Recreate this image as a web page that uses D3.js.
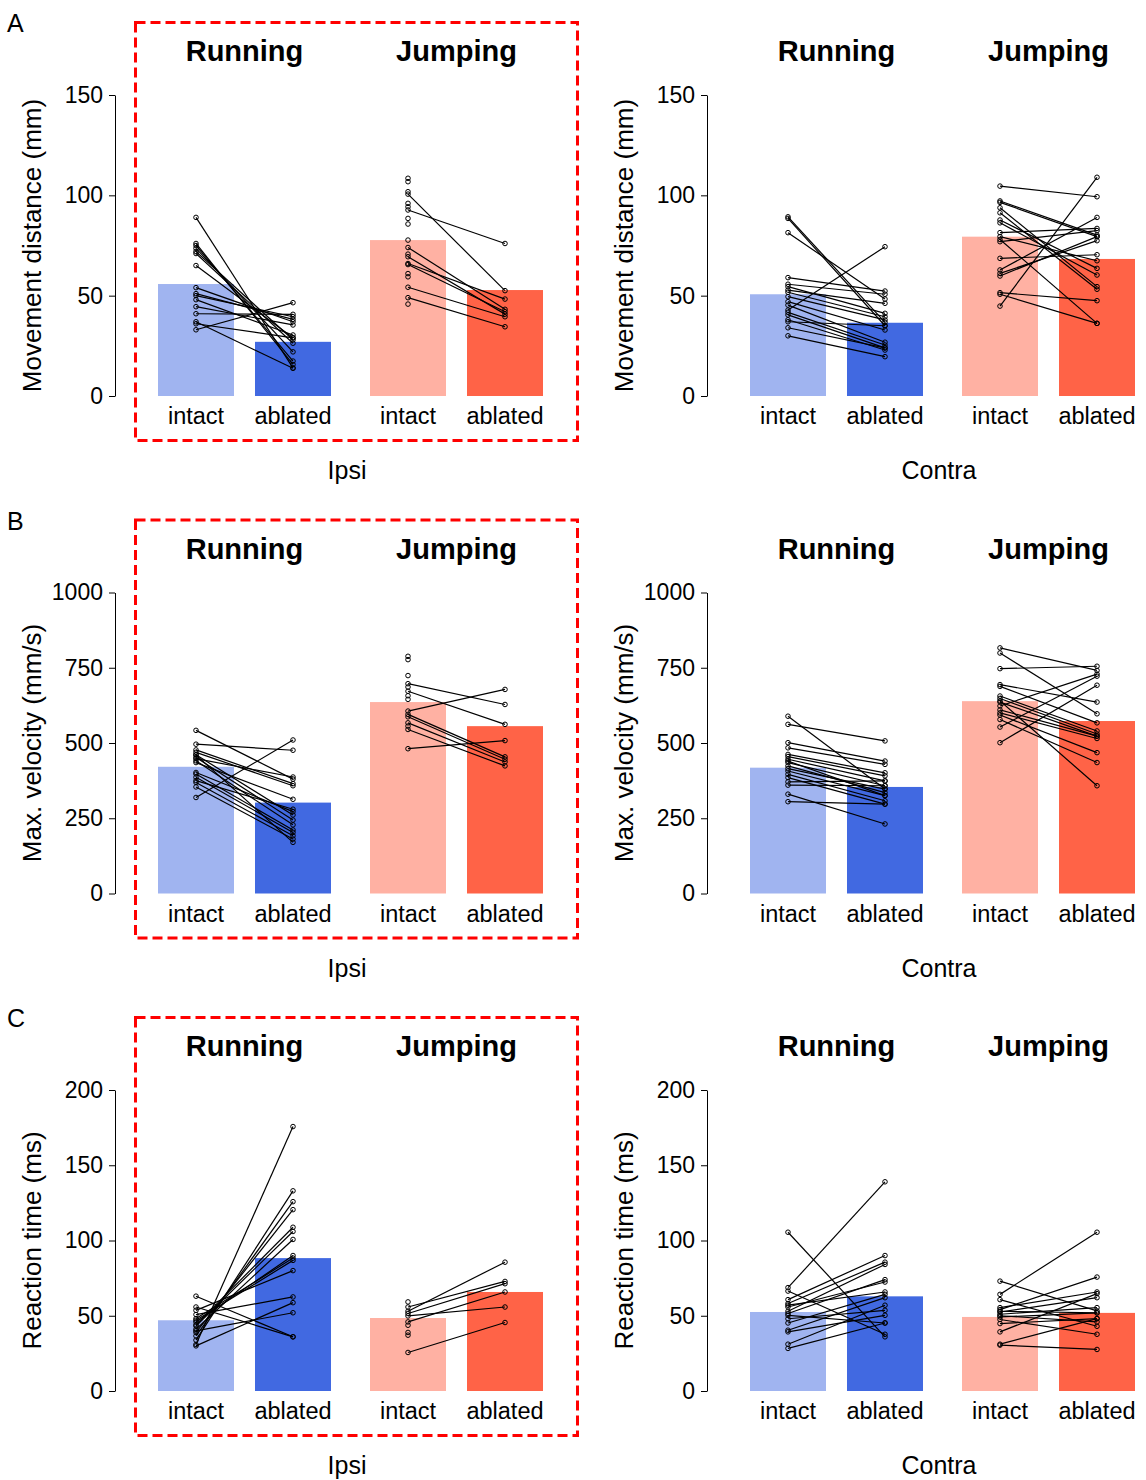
<!DOCTYPE html>
<html>
<head>
<meta charset="utf-8">
<script src="https://cdn.jsdelivr.net/npm/d3@7"></script>
<style>
  body { margin: 0; background: #fff; }
  text { font-family: "Liberation Sans", Arial, sans-serif; }
</style>
</head>
<body>
<div id="chart"></div>
<script>
'use strict';

const behaviors = ['Running', 'Jumping'];
const conditions = ['intact', 'ablated'];
const sides = ['Ipsi', 'Contra'];
const panelLetters = ['A', 'B', 'C'];
const yLabels = ['Movement distance (mm)', 'Max. velocity (mm/s)', 'Reaction time (ms)'];
const yMaxes = [150, 1000, 200];
const yTicks = [[0, 50, 100, 150], [0, 250, 500, 750, 1000], [0, 50, 100, 150, 200]];

// A: movement distance (mm)
const distIpsiRunIntact = [89, 76, 75, 73.6, 72, 71, 65, 54, 51, 50, 48, 44.5, 41, 37, 36, 33];
const distIpsiRunAblated = [14, 15.7, 17.4, 22, 28, 26.3, 29, 37, 38.2, 39.5, 30.4, 35.4, 40.7, 13.8, 29, 46.5];
const distIpsiJumpIntact = [108.5, 106.8, 101.8, 100.6, 96, 94.3, 92.7, 88.5, 85.7, 77.7, 74, 70.7, 69.4, 66, 65.5, 61, 59.4, 54.2, 49, 45.8];
const distIpsiJumpAblated = [null, null, null, 52.5, null, null, 76, null, null, null, 43.2, null, 40.8, 48.3, 42, null, null, 39.5, 34.5, null];
const distIpsiMeans = [55.8, 27, 77.7, 52.8];
const distContraRunIntact = [89.3, 88.5, 81.4, 59, 55.7, 54.5, 52.8, 51.7, 49.5, 47, 45.3, 42.8, 41.7, 40.4, 38, 37, 34, 30];
const distContraRunAblated = [36.7, 35, 48.3, 52.3, 50.7, 41.2, 46.2, 39.5, 37.9, 32.9, 26.8, 74.4, 25.4, 24, 22.9, 35, 24, 19.6];
const distContraJumpIntact = [104.6, 97.2, 96.5, 93.8, 91.3, 87.7, 86.3, 81.4, 79.4, 78, 76.9, 68.6, 62.8, 61.1, 59.8, 51.5, 50.7, 44.8];
const distContraJumpAblated = [99.3, 80.2, 79.4, 54.5, 53.2, 63.6, 60.3, 83.5, 67.4, 36.2, 82.4, 70.4, 89, 77.4, 79.4, 47.5, 36.2, 109];
const distContraMeans = [50.7, 36.5, 79.4, 68.3];

// B: max velocity (mm/s)
const velIpsiRunIntact = [542, 496, 477, 469, 461, 452, 441, 435, 402, 397, 386, 375, 369, 354, 319, 460, 448];
const velIpsiRunAblated = [380, 476, 365, 358, 261, 244, 228, 313, 272, 211, 203, 280, 192, 181, 510, 170, 387];
const velIpsiJumpIntact = [788, 777, 724, 697, 686, 672, 657, 645, 606, 595, 587, 567, 556, 545, 481];
const velIpsiJumpAblated = [null, null, null, 628, null, 562, null, null, 678, 454, 446, 437, null, 424, 508];
const velIpsiMeans = [421, 302, 636, 556];
const velContraRunIntact = [589, 562, 501, 484, 462, 455, 446, 435, 424, 407, 396, 385, 371, 360, 330, 305, 440, 415];
const velContraRunAblated = [347, 507, 440, 429, 401, 391, 374, 358, 335, 325, 308, 297, 374, 358, 231, 297, 325, 347];
const velContraJumpIntact = [816, 799, 747, 694, 688, 656, 648, 636, 623, 600, 593, 578, 553, 501, 640, 610];
const velContraJumpAblated = [741, 597, 755, 636, 567, 540, 530, 523, 729, 515, 468, 435, 722, 692, 358, 523];
const velContraMeans = [418, 354, 639, 573];

// C: reaction time (ms)
const rtIpsiRunIntact = [63, 55.8, 53.6, 50.8, 48.1, 45.9, 43.2, 41, 38.9, 36.6, 33.8, 30.9, 30, 47, 44, 40];
const rtIpsiRunAblated = [36, 36, 80, 62.5, 88.3, 90, 106, 100.7, 120.5, 125.8, 133, 175.7, 58.7, 86.8, 108.8, 52];
const rtIpsiJumpIntact = [59.2, 55.8, 53, 51.5, 49.9, 45.9, 43.7, 38.9, 37.1, 25.6];
const rtIpsiJumpAblated = [null, 72.8, 85.6, 71.3, 55.8, 65.8, null, null, null, 45.5];
const rtIpsiMeans = [47, 88.3, 48.5, 65.8];
const rtContraRunIntact = [105.5, 68.7, 66.4, 60.7, 58.1, 55.8, 51.5, 50.3, 45.2, 40.4, 39.3, 31.1, 28.3, 53, 57, 48];
const rtContraRunAblated = [36, 139, 37.7, 90, 85.6, 72.4, 74, 45.2, 64.2, 62, 50.3, 57, 45.2, 84.1, 65.8, 53.6];
const rtContraJumpIntact = [73, 64.2, 60.7, 55.4, 54.1, 52.5, 51, 49.2, 47.5, 44.8, 39.3, 31.1, 30.5, 50, 53];
const rtContraJumpAblated = [53.2, 105.5, 43, 65.8, 75.7, 62, 55.4, 51.9, 37.7, 48.1, 64.7, 48.1, 27.6, 45.9, 51.9];
const rtContraMeans = [52.5, 62.9, 49.2, 51.9];

// rows x columns (ipsi, contra)
const rows = [
  [
    {pairs: [[distIpsiRunIntact, distIpsiRunAblated], [distIpsiJumpIntact, distIpsiJumpAblated]], means: distIpsiMeans},
    {pairs: [[distContraRunIntact, distContraRunAblated], [distContraJumpIntact, distContraJumpAblated]], means: distContraMeans}
  ],
  [
    {pairs: [[velIpsiRunIntact, velIpsiRunAblated], [velIpsiJumpIntact, velIpsiJumpAblated]], means: velIpsiMeans},
    {pairs: [[velContraRunIntact, velContraRunAblated], [velContraJumpIntact, velContraJumpAblated]], means: velContraMeans}
  ],
  [
    {pairs: [[rtIpsiRunIntact, rtIpsiRunAblated], [rtIpsiJumpIntact, rtIpsiJumpAblated]], means: rtIpsiMeans},
    {pairs: [[rtContraRunIntact, rtContraRunAblated], [rtContraJumpIntact, rtContraJumpAblated]], means: rtContraMeans}
  ]
];

const barColors = {
  Running: {intact: '#a0b4f0', ablated: '#4169e1'},
  Jumping: {intact: '#ffb1a3', ablated: '#ff6347'}
};

const rowStep = 497.5, colStep = 592;
const axisX = 115, plotTop = 95, plotBottom = 396;

const svg = d3.select('#chart').append('svg')
    .attr('width', 1146)
    .attr('height', 1480);

rows.forEach((row, r) => {
  row.forEach((panel, c) => {
    const g = svg.append('g')
        .attr('transform', 'translate(' + (c * colStep) + ',' + (r * rowStep) + ')');

    const y = d3.scaleLinear().domain([0, yMaxes[r]]).range([plotBottom, plotTop]);
    const xGroup = d3.scaleBand().domain(behaviors).range([158, 543]).paddingInner(0.184);
    const xCond = d3.scaleBand().domain(conditions).range([0, xGroup.bandwidth()]).paddingInner(0.2165);
    const cx = (b, k) => xGroup(b) + xCond(k) + xCond.bandwidth() / 2;

    // red dashed box round the ipsi panel
    if (c === 0) {
      g.append('rect')
          .attr('x', 135.5).attr('y', 22.5)
          .attr('width', 442).attr('height', 418)
          .attr('fill', 'none')
          .attr('stroke', '#ff0000')
          .attr('stroke-width', 3)
          .attr('stroke-dasharray', '10,5');

      g.append('text')
          .attr('x', 7).attr('y', 32)
          .attr('font-size', 25)
          .text(panelLetters[r]);
    }

    // bars
    const barData = [];
    behaviors.forEach((b, bi) => conditions.forEach((k, ki) => {
      barData.push({b: b, k: k, v: panel.means[bi * 2 + ki]});
    }));
    g.selectAll('.bar')
        .data(barData)
        .enter().append('rect')
        .attr('class', 'bar')
        .attr('x', d => xGroup(d.b) + xCond(d.k))
        .attr('y', d => y(d.v))
        .attr('width', xCond.bandwidth())
        .attr('height', d => y(0) - y(d.v))
        .attr('fill', d => barColors[d.b][d.k]);

    // paired lines + dots
    behaviors.forEach((b, bi) => {
      const intact = panel.pairs[bi][0];
      const ablated = panel.pairs[bi][1];
      const paired = d3.zip(intact, ablated).filter(d => d[1] != null);

      g.selectAll('.pair-' + b)
          .data(paired)
          .enter().append('line')
          .attr('x1', cx(b, 'intact'))
          .attr('y1', d => y(d[0]))
          .attr('x2', cx(b, 'ablated'))
          .attr('y2', d => y(d[1]))
          .attr('stroke', '#000')
          .attr('stroke-width', 1.2);

      const dots = intact.map(v => ({k: 'intact', v: v}))
          .concat(ablated.filter(v => v != null).map(v => ({k: 'ablated', v: v})));
      g.selectAll('.dot-' + b)
          .data(dots)
          .enter().append('circle')
          .attr('cx', d => cx(b, d.k))
          .attr('cy', d => y(d.v))
          .attr('r', 2.3)
          .attr('fill', 'none')
          .attr('stroke', '#000')
          .attr('stroke-width', 1);

      g.append('text')
          .attr('x', xGroup(b) + xGroup.bandwidth() / 2)
          .attr('y', 61)
          .attr('text-anchor', 'middle')
          .attr('font-size', 29)
          .attr('font-weight', 'bold')
          .text(b);

      conditions.forEach(k => {
        g.append('text')
            .attr('x', cx(b, k))
            .attr('y', 424)
            .attr('text-anchor', 'middle')
            .attr('font-size', 23.5)
            .text(k);
      });
    });

    // y axis
    const axis = g.append('g')
        .attr('transform', 'translate(' + axisX + ',0)')
        .call(d3.axisLeft(y).tickValues(yTicks[r]).tickFormat(d3.format('d'))
            .tickSize(6).tickPadding(6).tickSizeOuter(0));
    axis.attr('font-family', null).attr('font-size', null);
    axis.selectAll('text').attr('font-size', 23).attr('fill', '#000');
    axis.selectAll('line, path').attr('stroke', '#000').attr('stroke-width', 1);

    g.append('text')
        .attr('transform', 'translate(41,' + ((plotTop + plotBottom) / 2) + ') rotate(-90)')
        .attr('text-anchor', 'middle')
        .attr('font-size', 26)
        .text(yLabels[r]);

    g.append('text')
        .attr('x', 347)
        .attr('y', 479)
        .attr('text-anchor', 'middle')
        .attr('font-size', 25)
        .text(sides[c]);
  });
});
</script>
</body>
</html>
